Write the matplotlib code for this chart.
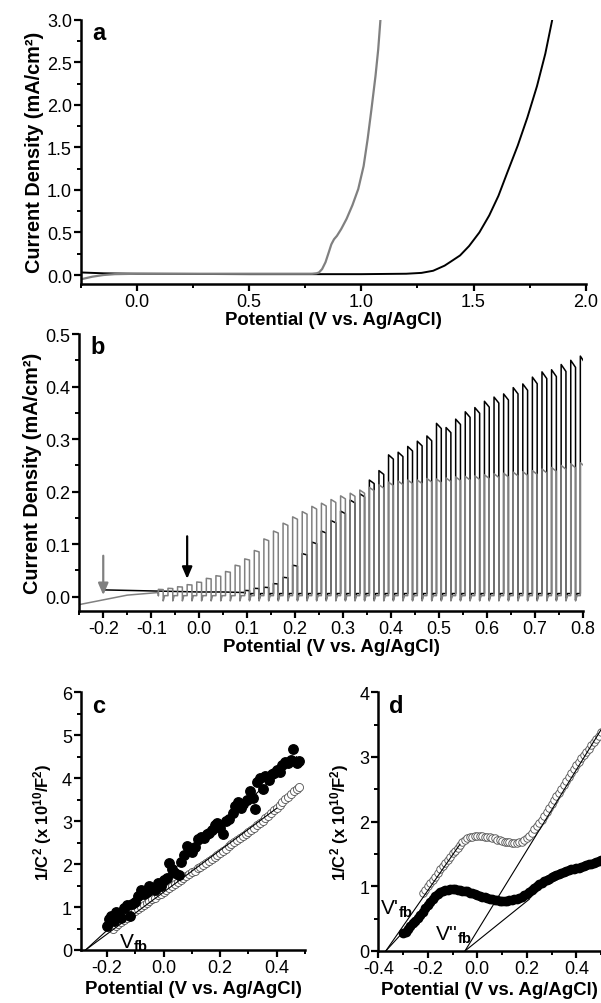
import matplotlib
matplotlib.use("Agg")
import matplotlib.pyplot as plt
from matplotlib.ticker import MultipleLocator, FormatStrFormatter

plt.rcParams['font.family'] = ['Liberation Sans', 'DejaVu Sans']
plt.rcParams['axes.unicode_minus'] = False
plt.rcParams['mathtext.fontset'] = 'custom'
plt.rcParams['mathtext.rm'] = 'Liberation Sans'
plt.rcParams['mathtext.it'] = 'Liberation Sans:italic'
plt.rcParams['mathtext.bf'] = 'Liberation Sans:bold'
plt.rcParams['mathtext.default'] = 'bf'

GRAY = '#808080'

# ---------------- Panel a: LSV ----------------
a_gray_x = [-0.25, -0.20, -0.15, -0.10, 0.0, 0.3, 0.6, 0.78, 0.80, 0.811, 0.825, 0.84, 0.855,
            0.866, 0.878, 0.891, 0.91, 0.934, 0.96, 0.986, 1.01, 1.028, 1.045, 1.063, 1.075, 1.085]
a_gray_y = [-0.05, -0.02, 0.0, 0.01, 0.015, 0.015, 0.015, 0.015, 0.02, 0.03, 0.07, 0.15, 0.27,
            0.36, 0.42, 0.46, 0.54, 0.66, 0.82, 1.01, 1.28, 1.60, 1.95, 2.34, 2.65, 3.0]
a_black_x = [-0.25, -0.15, 0.0, 0.5, 1.0, 1.20, 1.268, 1.32, 1.371, 1.40, 1.44, 1.48, 1.526,
             1.57, 1.611, 1.65, 1.697, 1.74, 1.783, 1.82, 1.851]
a_black_y = [0.03, 0.02, 0.015, 0.01, 0.01, 0.015, 0.025, 0.05, 0.11, 0.16, 0.23, 0.34, 0.50,
             0.70, 0.93, 1.20, 1.52, 1.85, 2.22, 2.60, 3.0]

# ---------------- Panel b: chopped-light LSV ----------------
b_gray_base_x = [-0.25, -0.20, -0.15, -0.10, -0.085]
b_gray_base_y = [-0.015, -0.006, 0.003, 0.007, 0.008]
b_gray_starts = [-0.085, -0.065, -0.045, -0.025, -0.005, 0.015, 0.035, 0.055, 0.075, 0.095,
                 0.115, 0.135, 0.155, 0.175, 0.195, 0.215, 0.235, 0.255, 0.275, 0.295,
                 0.315, 0.335, 0.355, 0.375, 0.395, 0.415, 0.435, 0.455, 0.475, 0.495,
                 0.515, 0.535, 0.555, 0.575, 0.595, 0.615, 0.635, 0.655, 0.675, 0.695,
                 0.715, 0.735, 0.755, 0.775, 0.795]
b_gray_tops = [0.014, 0.016, 0.019, 0.023, 0.028, 0.035, 0.040, 0.048, 0.060, 0.072,
               0.088, 0.110, 0.125, 0.140, 0.152, 0.162, 0.172, 0.178, 0.185, 0.192,
               0.197, 0.203, 0.208, 0.213, 0.218, 0.220, 0.222, 0.222, 0.225, 0.224,
               0.226, 0.228, 0.229, 0.230, 0.232, 0.234, 0.235, 0.237, 0.238, 0.240,
               0.243, 0.246, 0.250, 0.253, 0.255]
b_black_base_x = [-0.20, -0.15, -0.10, -0.05, 0.0, 0.05, 0.095]
b_black_base_y = [0.013, 0.012, 0.011, 0.010, 0.009, 0.009, 0.008]
b_black_starts = [0.095, 0.115, 0.135, 0.155, 0.175, 0.195, 0.215, 0.235, 0.255, 0.275,
                  0.295, 0.315, 0.335, 0.355, 0.375, 0.395, 0.415, 0.435, 0.455, 0.475,
                  0.495, 0.515, 0.535, 0.555, 0.575, 0.595, 0.615, 0.635, 0.655, 0.675,
                  0.695, 0.715, 0.735, 0.755, 0.775, 0.795]
b_black_tops = [0.012, 0.016, 0.018, 0.025, 0.037, 0.060, 0.082, 0.104, 0.125, 0.145,
                0.163, 0.184, 0.196, 0.222, 0.240, 0.270, 0.275, 0.286, 0.296, 0.306,
                0.330, 0.322, 0.338, 0.352, 0.360, 0.372, 0.380, 0.386, 0.398, 0.405,
                0.418, 0.428, 0.432, 0.442, 0.450, 0.458]

# ---------------- Panel c: Mott-Schottky ----------------
c_filled_x = [-0.200, -0.192, -0.185, -0.175, -0.168, -0.158, -0.150, -0.140, -0.130, -0.120,
              -0.112, -0.100, -0.090, -0.080, -0.070, -0.060, -0.050, -0.040, -0.030, -0.020,
              -0.010, 0.000, 0.012, 0.020, 0.030, 0.042, 0.055, 0.062, 0.072, 0.082,
              0.092, 0.100, 0.112, 0.122, 0.132, 0.142, 0.152, 0.162, 0.172, 0.182,
              0.190, 0.200, 0.210, 0.220, 0.232, 0.245, 0.252, 0.262, 0.272, 0.282,
              0.295, 0.305, 0.315, 0.322, 0.332, 0.342, 0.352, 0.360, 0.372, 0.382,
              0.392, 0.400, 0.412, 0.420, 0.430, 0.440, 0.450, 0.458, 0.470, 0.480]
c_filled_y = [0.57, 0.72, 0.80, 0.68, 0.88, 0.82, 0.75, 0.98, 1.05, 0.80,
              1.08, 1.12, 1.25, 1.40, 1.30, 1.35, 1.50, 1.45, 1.40, 1.55,
              1.48, 1.62, 1.68, 2.02, 1.88, 1.80, 1.75, 2.05, 2.20, 2.42,
              2.30, 2.28, 2.40, 2.58, 2.62, 2.60, 2.70, 2.72, 2.80, 2.90,
              2.95, 2.85, 2.70, 3.00, 3.05, 3.20, 3.35, 3.45, 3.30, 3.40,
              3.50, 3.70, 3.55, 3.28, 3.90, 4.00, 3.75, 4.05, 3.95, 4.10,
              4.12, 4.20, 4.15, 4.30, 4.38, 4.35, 4.42, 4.68, 4.35, 4.40]
c_open_x = [-0.18, -0.17, -0.16, -0.15, -0.14, -0.13, -0.12, -0.11, -0.10, -0.09,
            -0.08, -0.07, -0.06, -0.05, -0.04, -0.03, -0.02, -0.01, 0.00, 0.01,
            0.02, 0.03, 0.04, 0.05, 0.06, 0.07, 0.08, 0.09, 0.10, 0.11,
            0.12, 0.13, 0.14, 0.15, 0.16, 0.17, 0.18, 0.19, 0.20, 0.21,
            0.22, 0.23, 0.24, 0.25, 0.26, 0.27, 0.28, 0.29, 0.30, 0.31,
            0.32, 0.33, 0.34, 0.35, 0.36, 0.37, 0.38, 0.39, 0.40, 0.41,
            0.42, 0.43, 0.44, 0.45, 0.46, 0.47, 0.48]
c_open_y = [0.50, 0.55, 0.60, 0.65, 0.70, 0.75, 0.80, 0.85, 0.90, 0.95,
            1.00, 1.04, 1.09, 1.13, 1.18, 1.22, 1.27, 1.31, 1.36, 1.40,
            1.45, 1.49, 1.54, 1.58, 1.63, 1.67, 1.72, 1.76, 1.81, 1.85,
            1.90, 1.94, 1.99, 2.03, 2.08, 2.12, 2.17, 2.21, 2.26, 2.31,
            2.36, 2.41, 2.46, 2.51, 2.55, 2.60, 2.65, 2.70, 2.75, 2.80,
            2.85, 2.90, 2.96, 3.01, 3.07, 3.13, 3.19, 3.25, 3.31, 3.38,
            3.44, 3.51, 3.57, 3.63, 3.69, 3.75, 3.80]
c_fit_open_x = [-0.276, 0.40]
c_fit_open_y = [0.0, 3.30]
c_fit_filled_x = [-0.276, 0.47]
c_fit_filled_y = [0.0, 4.50]

# ---------------- Panel d: Mott-Schottky ----------------
d_filled_x = [-0.30, -0.29, -0.28, -0.27, -0.26, -0.25, -0.24, -0.23, -0.22, -0.21,
              -0.20, -0.19, -0.18, -0.17, -0.16, -0.15, -0.14, -0.13, -0.12, -0.11,
              -0.10, -0.09, -0.08, -0.07, -0.06, -0.05, -0.04, -0.03, -0.02, -0.01,
              0.00, 0.01, 0.02, 0.03, 0.04, 0.05, 0.06, 0.07, 0.08, 0.09,
              0.10, 0.11, 0.12, 0.13, 0.14, 0.15, 0.16, 0.17, 0.18, 0.19,
              0.20, 0.21, 0.22, 0.23, 0.24, 0.25, 0.26, 0.27, 0.28, 0.29,
              0.30, 0.31, 0.32, 0.33, 0.34, 0.35, 0.36, 0.37, 0.38, 0.39,
              0.40, 0.41, 0.42, 0.43, 0.44, 0.45, 0.46, 0.47, 0.48, 0.49, 0.50]
d_filled_y = [0.28, 0.30, 0.34, 0.38, 0.43, 0.47, 0.51, 0.56, 0.61, 0.66,
              0.71, 0.76, 0.81, 0.85, 0.88, 0.91, 0.93, 0.94, 0.95, 0.96,
              0.96, 0.96, 0.95, 0.94, 0.93, 0.93, 0.92, 0.90, 0.89, 0.88,
              0.86, 0.85, 0.84, 0.83, 0.82, 0.81, 0.80, 0.79, 0.79, 0.78,
              0.78, 0.78, 0.78, 0.79, 0.79, 0.80, 0.81, 0.82, 0.84, 0.86,
              0.88, 0.91, 0.94, 0.97, 1.00, 1.03, 1.05, 1.08, 1.10, 1.12,
              1.14, 1.16, 1.18, 1.19, 1.21, 1.22, 1.23, 1.25, 1.26, 1.27,
              1.28, 1.29, 1.30, 1.31, 1.33, 1.34, 1.35, 1.36, 1.37, 1.39, 1.40]
d_open_x = [-0.22, -0.21, -0.20, -0.19, -0.18, -0.17, -0.16, -0.15, -0.14, -0.13,
            -0.12, -0.11, -0.10, -0.09, -0.08, -0.07, -0.06, -0.05, -0.04, -0.03,
            -0.02, -0.01, 0.00, 0.01, 0.02, 0.03, 0.04, 0.05, 0.06, 0.07,
            0.08, 0.09, 0.10, 0.11, 0.12, 0.13, 0.14, 0.15, 0.16, 0.17,
            0.18, 0.19, 0.20, 0.21, 0.22, 0.23, 0.24, 0.25, 0.26, 0.27,
            0.28, 0.29, 0.30, 0.31, 0.32, 0.33, 0.34, 0.35, 0.36, 0.37,
            0.38, 0.39, 0.40, 0.41, 0.42, 0.43, 0.44, 0.45, 0.46, 0.47,
            0.48, 0.49, 0.50]
d_open_y = [0.90, 0.95, 1.00, 1.05, 1.10, 1.15, 1.21, 1.26, 1.31, 1.36,
            1.41, 1.46, 1.51, 1.55, 1.60, 1.64, 1.68, 1.71, 1.74, 1.76,
            1.77, 1.78, 1.78, 1.78, 1.78, 1.77, 1.77, 1.76, 1.75, 1.74,
            1.72, 1.71, 1.70, 1.69, 1.68, 1.68, 1.67, 1.67, 1.67, 1.68,
            1.69, 1.71, 1.74, 1.78, 1.83, 1.88, 1.93, 1.98, 2.03, 2.09,
            2.15, 2.21, 2.27, 2.33, 2.39, 2.45, 2.51, 2.57, 2.63, 2.69,
            2.75, 2.81, 2.87, 2.92, 2.98, 3.03, 3.08, 3.13, 3.18, 3.23,
            3.28, 3.33, 3.38]
d_fit1_x = [-0.37, -0.07]
d_fit1_y = [0.0, 1.65]
d_fit2_x = [-0.37, -0.14]
d_fit2_y = [0.0, 0.96]
d_fit3_x = [-0.05, 0.50]
d_fit3_y = [0.0, 3.42]
d_fit4_x = [-0.05, 0.21]
d_fit4_y = [0.0, 0.80]

TICK_FS = 13
LAB_FS = 13.4
YLAB_FS = 14.3
LET_FS = 17


def style(ax, xmaj, xmin, ymaj, ymin, xfmt, yfmt):
    for s in ['top', 'right']:
        ax.spines[s].set_visible(False)
    for s in ['left', 'bottom']:
        ax.spines[s].set_linewidth(1.8)
    ax.xaxis.set_major_locator(MultipleLocator(xmaj))
    ax.xaxis.set_minor_locator(MultipleLocator(xmin))
    ax.yaxis.set_major_locator(MultipleLocator(ymaj))
    ax.yaxis.set_minor_locator(MultipleLocator(ymin))
    ax.xaxis.set_major_formatter(FormatStrFormatter(xfmt))
    ax.yaxis.set_major_formatter(FormatStrFormatter(yfmt))
    ax.tick_params(which='major', direction='out', length=5, width=1.6,
                   labelsize=TICK_FS, pad=1.5)
    ax.tick_params(which='minor', direction='out', length=3, width=1.4)


fig = plt.figure(figsize=(6.01, 10.04), dpi=100)

# ---- a ----
ax = fig.add_axes([0.1348, 0.7161, 0.8397, 0.2633])
ax.plot(a_black_x, a_black_y, color='black', lw=1.4)
ax.plot(a_gray_x, a_gray_y, color=GRAY, lw=1.6)
ax.set_xlim(-0.25, 2.0)
ax.set_ylim(-0.106, 3.0)
style(ax, 0.5, 0.25, 0.5, 0.25, '%.1f', '%.1f')
ax.set_xlabel('Potential (V vs. Ag/AgCl)', fontsize=LAB_FS, fontweight='bold', labelpad=1)
ax.set_ylabel('Current Density (mA/cm²)', fontsize=YLAB_FS, fontweight='bold', labelpad=2)
ax.text(0.022, 0.995, 'a', transform=ax.transAxes, fontsize=LET_FS, fontweight='bold',
        va='top', ha='left')


# ---- b ----
def chopped(base_x, base_y, starts, tops, dark, spike, width):
    xs = list(base_x)
    ys = list(base_y)
    for s, h in zip(starts, tops):
        xs += [s, s, s + width, s + width, s + width + 0.003]
        ys += [dark, h, h * 0.97, dark - spike, dark]
    return xs, ys


ax = fig.add_axes([0.1319, 0.3907, 0.8377, 0.2756])
bx, by = chopped(b_black_base_x, b_black_base_y, b_black_starts, b_black_tops, 0.006, 0.012, 0.01)
ax.plot(bx, by, color='black', lw=1.1)
gx, gy = chopped(b_gray_base_x, b_gray_base_y, b_gray_starts, b_gray_tops, 0.002, 0.010, 0.01)
ax.plot(gx, gy, color=GRAY, lw=1.1)
ax.annotate('', xy=(-0.2, 0.003), xytext=(-0.2, 0.078),
            arrowprops=dict(arrowstyle='-|>,head_width=0.3,head_length=0.7',
                            color=GRAY, lw=1.6, shrinkA=0, shrinkB=0))
ax.annotate('', xy=(-0.025, 0.034), xytext=(-0.025, 0.115),
            arrowprops=dict(arrowstyle='-|>,head_width=0.3,head_length=0.7',
                            color='black', lw=1.6, shrinkA=0, shrinkB=0))
ax.set_xlim(-0.25, 0.8)
ax.set_ylim(-0.0267, 0.5)
style(ax, 0.1, 0.05, 0.1, 0.05, '%.1f', '%.1f')
ax.set_xlabel('Potential (V vs. Ag/AgCl)', fontsize=LAB_FS, fontweight='bold', labelpad=1)
ax.set_ylabel('Current Density (mA/cm²)', fontsize=YLAB_FS, fontweight='bold', labelpad=2)
ax.text(0.022, 0.995, 'b', transform=ax.transAxes, fontsize=LET_FS, fontweight='bold',
        va='top', ha='left')

# ---- c ----
ax = fig.add_axes([0.1348, 0.0528, 0.3727, 0.2567])
ax.plot(c_open_x, c_open_y, 'o', ms=5.8, mfc='white', mec='#505050', mew=0.6, zorder=2)
ax.plot(c_fit_open_x, c_fit_open_y, color='black', lw=0.8, zorder=3)
ax.plot(c_fit_filled_x, c_fit_filled_y, color='black', lw=0.8, zorder=3)
ax.plot(c_filled_x, c_filled_y, 'o', ms=6.8, color='black', zorder=4)
ax.set_xlim(-0.292, 0.5)
ax.set_ylim(0, 6)
style(ax, 0.2, 0.1, 1, 0.5, '%.1f', '%d')
ax.set_xlabel('Potential (V vs. Ag/AgCl)', fontsize=LAB_FS, fontweight='bold', labelpad=3)
ax.set_ylabel('1/C$^{2}$ (x 10$^{10}$/F$^{2}$)', fontsize=12, fontweight='bold', labelpad=6)
ax.text(-0.158, 0.06, r'V$_{fb}$', fontsize=15, fontweight='normal', va='baseline', ha='left',
        zorder=6)
ax.text(0.05, 0.995, 'c', transform=ax.transAxes, fontsize=LET_FS, fontweight='bold',
        va='top', ha='left')

# ---- d ----
ax = fig.add_axes([0.6295, 0.0518, 0.3705, 0.2577])
ax.plot(d_open_x, d_open_y, 'o', ms=5.4, mfc='white', mec='#505050', mew=0.6, zorder=2)
for fx, fy in [(d_fit1_x, d_fit1_y), (d_fit2_x, d_fit2_y), (d_fit3_x, d_fit3_y), (d_fit4_x, d_fit4_y)]:
    ax.plot(fx, fy, color='black', lw=0.8, zorder=3)
ax.plot(d_filled_x, d_filled_y, 'o', ms=6, color='black', zorder=4)
ax.set_xlim(-0.4, 0.5)
ax.set_ylim(0, 4)
style(ax, 0.2, 0.1, 1, 0.5, '%.1f', '%d')
ax.set_xlabel('Potential (V vs. Ag/AgCl)', fontsize=LAB_FS, fontweight='bold', labelpad=3)
ax.set_ylabel('1/C$^{2}$ (x 10$^{10}$/F$^{2}$)', fontsize=12, fontweight='bold', labelpad=6)
ax.text(-0.392, 0.57, r"V'$_{fb}$", fontsize=15, va='baseline', ha='left', zorder=6)
ax.text(-0.17, 0.17, r"V''$_{fb}$", fontsize=15, va='baseline', ha='left', zorder=6)
ax.text(0.05, 0.995, 'd', transform=ax.transAxes, fontsize=LET_FS, fontweight='bold',
        va='top', ha='left')

fig.savefig('out.png', dpi=100)
